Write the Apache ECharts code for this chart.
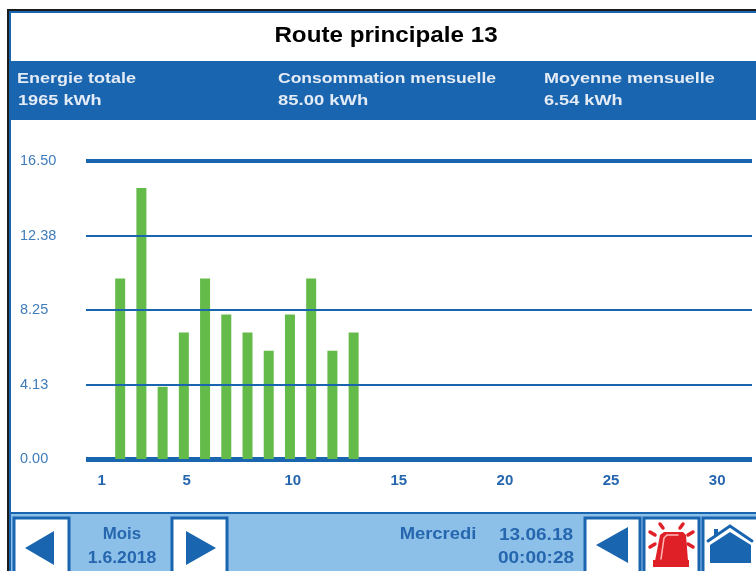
<!DOCTYPE html>
<html>
<head>
<meta charset="utf-8">
<style>
  html, body { margin: 0; padding: 0; background: #fff; }
  #chart { width: 756px; height: 571px; }
</style>
<script src="https://cdn.jsdelivr.net/npm/echarts@6/dist/echarts.min.js"></script>
</head>
<body>
<div id="chart"></div>
<script>
const days = [1, 2, 3, 4, 5, 6, 7, 8, 9, 10, 11, 12];
const energy = [10, 15, 4, 7, 10, 8, 7, 6, 8, 10, 6, 7];
const dayLabels = [1, 5, 10, 15, 20, 25, 30];
const yTicks = [4.125, 8.25, 12.375];
const yMax = 16.5;
const yStep = 4.125;

// bars sit a bit right of their day label on the panel
const barShift = 0.87;

const BLUE = '#1a65b0';
const TEXT_BLUE = '#2566ae';
const RED = '#e02027';
const FONT = '"Liberation Sans", Arial, sans-serif';

// the panel font is wider than Liberation, so text gets stretched with scaleX
function label(x, y, text, size, color, stretch, align) {
  return {
    type: 'text',
    x: x,
    y: y,
    z: 20,
    scaleX: stretch,
    style: {
      text: text,
      fill: color,
      font: 'bold ' + size + 'px ' + FONT,
      textAlign: align || 'left',
      textVerticalAlign: 'middle'
    }
  };
}

function box(x, y, w, h, fill, stroke, lineWidth) {
  return {
    type: 'rect',
    z: 10,
    shape: { x: x, y: y, width: w, height: h },
    style: { fill: fill, stroke: stroke || null, lineWidth: lineWidth || 0 }
  };
}

function poly(points, fill) {
  return { type: 'polygon', z: 12, shape: { points: points }, style: { fill: fill } };
}

function stroke(points, color, width) {
  return {
    type: 'polyline',
    z: 13,
    shape: { points: points },
    style: { stroke: color, lineWidth: width, lineCap: 'round', fill: null }
  };
}

const panel = [
  // frame
  box(7, 9, 749, 2, '#1c1c1c'),
  box(7, 9, 2, 562, '#1c1c1c'),
  box(9, 11, 747, 2, BLUE),
  box(9, 11, 2, 560, BLUE),
  // header band
  box(11, 61, 745, 59, BLUE),
  label(386, 36, 'Route principale 13', 22, '#000', 1.1, 'center'),
  label(17, 79, 'Energie totale', 15.5, '#e3ebf5', 1.16),
  label(18, 101, '1965 kWh', 15.5, '#e3ebf5', 1.17),
  label(278, 79, 'Consommation mensuelle', 15.5, '#e3ebf5', 1.13),
  label(278, 101, '85.00 kWh', 15.5, '#e3ebf5', 1.19),
  label(544, 79, 'Moyenne mensuelle', 15.5, '#e3ebf5', 1.16),
  label(544, 101, '6.54 kWh', 15.5, '#e3ebf5', 1.17),
  // footer
  box(11, 512, 745, 2, BLUE),
  box(11, 514, 745, 57, '#8cc0e8'),
  box(14, 518, 55, 60, '#fff', BLUE, 3),
  box(172, 518, 55, 60, '#fff', BLUE, 3),
  box(585, 518, 55, 60, '#fff', BLUE, 3),
  box(644, 518, 55, 60, '#fff', BLUE, 3),
  box(703, 518, 60, 60, '#fff', BLUE, 3),
  poly([[25, 548], [54, 531], [54, 565]], BLUE),
  poly([[186, 531], [216, 548], [186, 565]], BLUE),
  poly([[596, 545], [628, 527], [628, 563]], BLUE),
  // beacon icon
  poly([[664, 532], [683, 532], [686, 535], [688, 561], [655, 561], [660, 535]], RED),
  box(653, 560, 36, 7, RED),
  stroke([[678, 535], [667, 535], [664, 538], [661, 559]], '#ffb9bb', 1.5),
  stroke([[660, 524], [663, 528]], RED, 3.5),
  stroke([[683, 524], [680, 528]], RED, 3.5),
  stroke([[650, 532], [655, 535]], RED, 3.5),
  stroke([[693, 532], [688, 535]], RED, 3.5),
  stroke([[650, 547], [655, 544]], RED, 3.5),
  stroke([[693, 547], [688, 544]], RED, 3.5),
  // house icon
  stroke([[708, 541], [730, 526], [752, 541]], BLUE, 3),
  box(714, 529, 4, 7, BLUE),
  poly([[710, 545], [730, 532], [751, 545], [751, 563], [710, 563]], BLUE),
  box(726, 555, 8, 8, '#fff'),
  box(728, 558, 4, 5, BLUE),
  label(122, 535, 'Mois', 16, TEXT_BLUE, 1.05, 'center'),
  label(122, 559, '1.6.2018', 16, TEXT_BLUE, 1.1, 'center'),
  label(438, 535, 'Mercredi', 16, TEXT_BLUE, 1.15, 'center'),
  label(536, 536, '13.06.18', 16, TEXT_BLUE, 1.19, 'center'),
  label(536, 559, '00:00:28', 16, TEXT_BLUE, 1.19, 'center')
];

const chart = echarts.init(document.getElementById('chart'));
chart.setOption({
  animation: false,
  backgroundColor: '#fff',
  textStyle: { fontFamily: FONT },
  graphic: { elements: panel },
  grid: { left: 86, right: 4, top: 161, height: 298 },
  xAxis: [
    {
      type: 'value',
      min: 0.26,
      max: 31.64,
      splitLine: { show: false },
      axisTick: { show: false },
      axisLine: { onZero: false, lineStyle: { color: BLUE, width: 5, cap: 'butt' } },
      axisLabel: {
        customValues: dayLabels,
        color: TEXT_BLUE,
        fontWeight: 'bold',
        fontSize: 15,
        margin: 14
      }
    },
    {
      type: 'value',
      position: 'top',
      min: 0.26,
      max: 31.64,
      splitLine: { show: false },
      axisTick: { show: false },
      axisLabel: { show: false },
      axisLine: { onZero: false, lineStyle: { color: BLUE, width: 4, cap: 'butt' } }
    }
  ],
  yAxis: {
    type: 'value',
    min: 0,
    max: yMax,
    interval: yStep,
    axisLine: { show: false },
    axisTick: { show: false },
    splitLine: { show: false },
    axisLabel: {
      color: '#3f7cba',
      fontSize: 14.5,
      align: 'left',
      margin: 66,
      padding: [2, 0, 0, 0],
      formatter: function (v) { return v.toFixed(2); }
    }
  },
  series: [
    {
      type: 'bar',
      barWidth: 10,
      itemStyle: { color: '#64bb4a' },
      data: days.map(function (d, i) { return [d + barShift, energy[i]]; }),
      // reference gridlines run across the bars, splitLine would sit behind them
      markLine: {
        silent: true,
        symbol: 'none',
        label: { show: false },
        lineStyle: { color: BLUE, width: 2, type: 'solid' },
        data: yTicks.map(function (v) { return { yAxis: v }; })
      }
    }
  ]
});
</script>
</body>
</html>
